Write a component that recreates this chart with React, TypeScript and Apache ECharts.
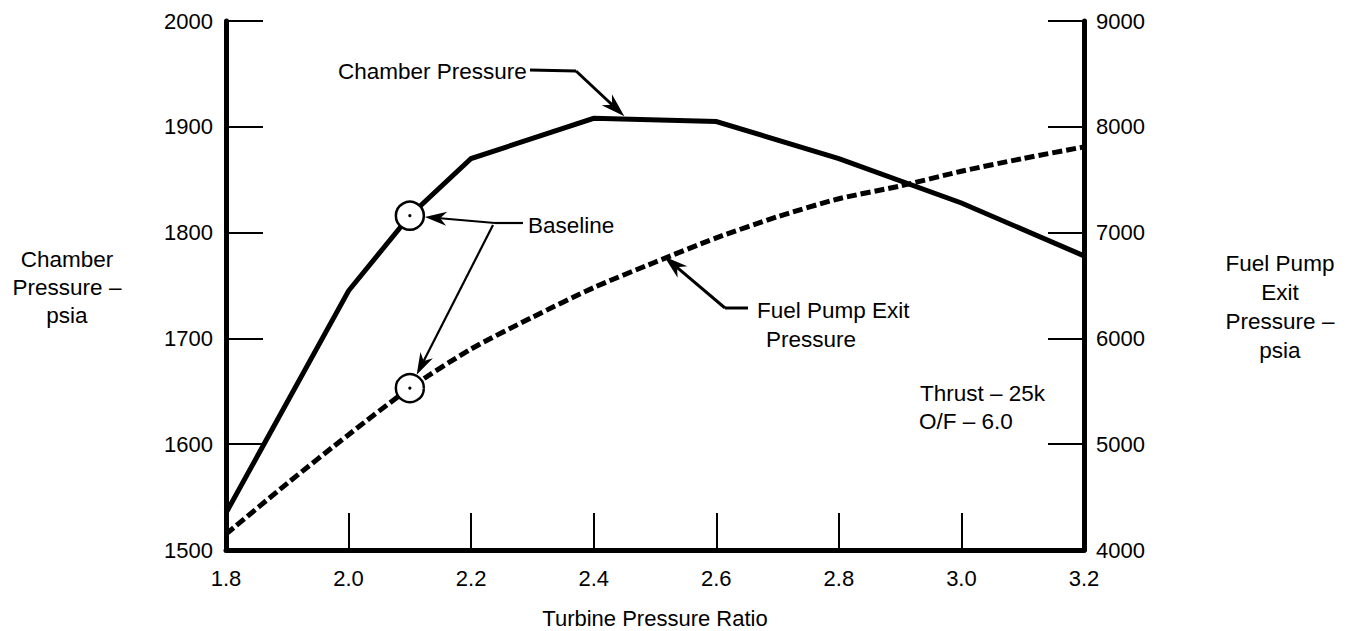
import React, { useEffect, useRef } from "react";
import * as echarts from "echarts";

// Chamber pressure (left axis, psia) vs turbine pressure ratio
const chamberRatio = [1.8, 2.0, 2.1, 2.2, 2.4, 2.6, 2.8, 3.0, 3.2];
const chamberPressure = [1535, 1745, 1816, 1870, 1908, 1905, 1870, 1828, 1778];

// Fuel pump exit pressure (right axis, psia)
const fuelRatio = [1.8, 1.9, 2.0, 2.1, 2.2, 2.3, 2.4, 2.5, 2.6, 2.7, 2.8, 2.9, 3.0, 3.1, 3.2];
const fuelPressure = [4150, 4630, 5090, 5530, 5900, 6200, 6480, 6720, 6950, 7150, 7320, 7440, 7580, 7700, 7810];

// Baseline operating point
const baselineRatio = 2.1;
const baselineChamber = 1816;
const baselineFuel = 5530;

// Points the annotation arrows aim at
const chamberLabelTarget = [2.45, 1910];
const fuelLabelTarget = [2.515, 6775];

const FONT = "'Liberation Sans', Arial, Helvetica, sans-serif";

function arrow(from: number[], to: number[], len = 22, half = 7, lw = 2.2) {
  const dx = to[0] - from[0];
  const dy = to[1] - from[1];
  const L = Math.hypot(dx, dy);
  const ux = dx / L;
  const uy = dy / L;
  const bx = to[0] - ux * len;
  const by = to[1] - uy * len;
  const nx = -uy;
  const ny = ux;
  const notch = [to[0] - ux * len * 0.7, to[1] - uy * len * 0.7];
  return [
    {
      type: "line",
      z: 50,
      shape: { x1: from[0], y1: from[1], x2: notch[0], y2: notch[1] },
      style: { stroke: "#000", lineWidth: lw },
    },
    {
      type: "polygon",
      z: 50,
      shape: {
        points: [to, [bx + nx * half, by + ny * half], notch, [bx - nx * half, by - ny * half]],
      },
      style: { fill: "#000" },
    },
  ];
}

function txt(x: number, y: number, text: string, align = "left", size = 22.5, lineHeight = 28) {
  return {
    type: "text",
    x,
    y,
    z: 60,
    style: {
      text,
      fill: "#000",
      font: `${size}px ${FONT}`,
      fontSize: size,
      fontFamily: FONT,
      textAlign: align,
      textVerticalAlign: "middle",
      lineHeight,
    },
  };
}

export default function App() {
  const ref = useRef<HTMLDivElement>(null);

  useEffect(() => {
    if (!ref.current) return;
    const chart = echarts.init(ref.current, undefined, { renderer: "svg" });
    const axisLabel = { color: "#000", fontSize: 22, fontFamily: FONT };
    chart.setOption({
      animation: false,
      backgroundColor: "#fff",
      grid: { left: 226, right: 273, top: 21, bottom: 81, containLabel: false, outerBoundsMode: "none" },
      xAxis: {
        type: "value",
        min: 1.8,
        max: 3.2,
        interval: 0.2,
        name: "Turbine Pressure Ratio",
        nameLocation: "middle",
        nameGap: 57,
        nameTextStyle: { color: "#000", fontSize: 22, fontFamily: FONT },
        axisLine: { show: true, lineStyle: { color: "#000", width: 5 } },
        axisTick: { show: true, inside: true, length: 37, lineStyle: { color: "#000", width: 2 } },
        axisLabel: { ...axisLabel, margin: 17, formatter: (v: number) => v.toFixed(1) },
        splitLine: { show: false },
      },
      yAxis: [
        {
          type: "value",
          position: "left",
          min: 1500,
          max: 2000,
          interval: 100,
          axisLine: { show: true, lineStyle: { color: "#000", width: 5 } },
          axisTick: { show: true, inside: true, length: 37, lineStyle: { color: "#000", width: 2 } },
          axisLabel: { ...axisLabel, margin: 13, formatter: (v: number) => String(Math.round(v)) },
          splitLine: { show: false },
        },
        {
          type: "value",
          position: "right",
          min: 4000,
          max: 9000,
          interval: 1000,
          axisLine: { show: true, lineStyle: { color: "#000", width: 5 } },
          axisTick: { show: true, inside: true, length: 36, lineStyle: { color: "#000", width: 2 } },
          axisLabel: { ...axisLabel, margin: 12, formatter: (v: number) => String(Math.round(v)) },
          splitLine: { show: false },
        },
      ],
      series: [
        {
          name: "Chamber Pressure",
          type: "line",
          yAxisIndex: 0,
          showSymbol: false,
          symbol: "none",
          data: chamberRatio.map((r, i) => [r, chamberPressure[i]]),
          lineStyle: { color: "#000", width: 5, cap: "butt", join: "miter" },
          z: 3,
        },
        {
          name: "Fuel Pump Exit Pressure",
          type: "line",
          yAxisIndex: 1,
          showSymbol: false,
          symbol: "none",
          smooth: 0.25,
          data: fuelRatio.map((r, i) => [r, fuelPressure[i]]),
          lineStyle: { color: "#000", width: 5, type: [10, 4], cap: "butt" },
          z: 3,
        },
      ],
    });

    const P = (x: number, y: number) =>
      chart.convertToPixel({ xAxisIndex: 0, yAxisIndex: 0 }, [x, y]) as number[];
    const PF = (x: number, y: number) =>
      chart.convertToPixel({ xAxisIndex: 0, yAxisIndex: 1 }, [x, y]) as number[];

    const r = 14;
    const cc = P(baselineRatio, baselineChamber);
    const fc = PF(baselineRatio, baselineFuel);
    const edge = (from: number[], c: number[]) => {
      const dx = c[0] - from[0];
      const dy = c[1] - from[1];
      const L = Math.hypot(dx, dy);
      return [c[0] - (dx / L) * (r + 1), c[1] - (dy / L) * (r + 1)];
    };
    const baseElbow = [495, 223];
    const chTip = P(chamberLabelTarget[0], chamberLabelTarget[1]);
    const fuTip = PF(fuelLabelTarget[0], fuelLabelTarget[1]);
    const chElbow = [576, 71];
    const fuElbow = [725, 308];

    const graphic: any[] = [
      // baseline circles
      { type: "circle", z: 40, shape: { cx: cc[0], cy: cc[1], r }, style: { fill: "#fff", stroke: "#000", lineWidth: 2.5 } },
      { type: "circle", z: 41, shape: { cx: cc[0], cy: cc[1], r: 1.6 }, style: { fill: "#000" } },
      { type: "circle", z: 40, shape: { cx: fc[0], cy: fc[1], r }, style: { fill: "#fff", stroke: "#000", lineWidth: 2.5 } },
      { type: "circle", z: 41, shape: { cx: fc[0], cy: fc[1], r: 1.6 }, style: { fill: "#000" } },
      // Baseline label and arrows
      txt(528, 225, "Baseline"),
      { type: "line", z: 50, shape: { x1: 523, y1: 223, x2: baseElbow[0], y2: baseElbow[1] }, style: { stroke: "#000", lineWidth: 2.2 } },
      ...arrow(baseElbow, edge(baseElbow, cc)),
      ...arrow([baseElbow[0] - 2, baseElbow[1] + 2], edge([baseElbow[0] - 2, baseElbow[1] + 2], fc)),
      // Chamber Pressure label
      txt(338, 71, "Chamber Pressure"),
      { type: "line", z: 50, shape: { x1: 530, y1: 70, x2: chElbow[0], y2: chElbow[1] }, style: { stroke: "#000", lineWidth: 3 } },
      ...arrow(chElbow, chTip, 24, 7.5, 3),
      // Fuel pump label
      txt(757, 310, "Fuel Pump Exit"),
      txt(766, 339, "Pressure"),
      { type: "line", z: 50, shape: { x1: 748, y1: 308, x2: fuElbow[0], y2: fuElbow[1] }, style: { stroke: "#000", lineWidth: 3 } },
      ...arrow(fuElbow, fuTip, 24, 7.5, 3),
      // Conditions
      txt(920, 393, "Thrust – 25k"),
      txt(919, 421, "O/F – 6.0"),
      // axis titles
      txt(67, 287, "Chamber\nPressure –\npsia", "center", 22.5, 28),
      txt(1280, 307, "Fuel Pump\nExit\nPressure –\npsia", "center", 22.5, 29),
    ];
    chart.setOption({ graphic });

    return () => chart.dispose();
  }, []);

  return (
    <div
      ref={ref}
      style={{ position: "fixed", left: 0, top: 0, width: 1357, height: 631, background: "#fff" }}
    />
  );
}
